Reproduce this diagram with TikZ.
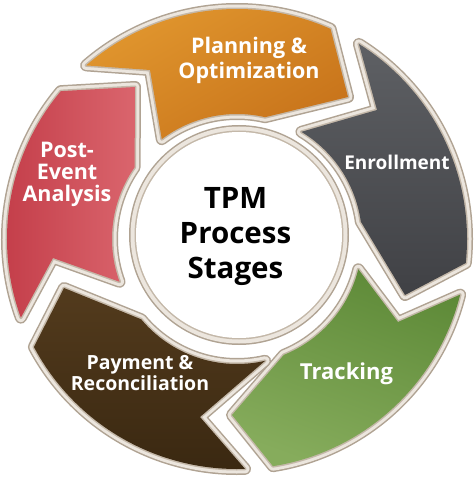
\documentclass[tikz,border=0pt]{standalone}
\usepackage{fontspec}
\setmainfont{Open Sans}
\definecolor{bdark}{HTML}{B0A393}
\definecolor{blight}{HTML}{ECE6DE}
\definecolor{bin}{HTML}{C4B8A9}
\definecolor{orA}{HTML}{E2982F}
\definecolor{orB}{HTML}{C8741B}
\definecolor{grA}{HTML}{5E6064}
\definecolor{grB}{HTML}{404145}
\definecolor{gnA}{HTML}{86AC5C}
\definecolor{gnB}{HTML}{5E8A38}
\definecolor{brA}{HTML}{533B1D}
\definecolor{brB}{HTML}{3A2811}
\definecolor{rdA}{HTML}{DA656D}
\definecolor{rdB}{HTML}{C23B47}
\newcommand\Ro{230}
\newcommand\Ri{125}
\newcommand\segpath[7]{\path[#1] (#2:\Ro) arc[start angle=#2,end angle=#3,radius=\Ro] -- (#4) -- (#5:\Ri) arc[start angle=#5,end angle=#6,radius=\Ri] -- (#7) -- cycle;}
\newcommand\segment[7]{%
 \segpath{draw=bdark,line width=12pt,line join=round}{#2}{#3}{#4}{#5}{#6}{#7}%
 \segpath{draw=blight,line width=9pt,line join=round}{#2}{#3}{#4}{#5}{#6}{#7}%
 \segpath{draw=bin,line width=3pt,line join=round}{#2}{#3}{#4}{#5}{#6}{#7}%
 \segpath{#1}{#2}{#3}{#4}{#5}{#6}{#7}}
\tikzset{
 lab/.style={text=white, align=center, inner sep=0pt, font=\bfseries\fontsize{21.5}{25}\selectfont},
 ctr/.style={text=black, align=center, inner sep=0pt, font=\bfseries\fontsize{29.5}{35}\selectfont}
}
\begin{document}
\begin{tikzpicture}[x=1pt,y=1pt]
\useasboundingbox (-237,-239) rectangle (237,239);
% segments
\segment{left color=orA,right color=orB,shading angle=30}{131}{66}{111,142}{77}{127}{-87,169}
\segment{top color=grA,bottom color=grB}{58}{-6}{168,-56}{8}{59}{140,129}
\segment{left color=gnB,right color=gnA,shading angle=-20}{-14}{-81}{-5,-176}{-68}{-14}{161,-83}
\segment{top color=brA,bottom color=brB}{-88}{-152}{-173,-49}{-140}{-77}{-37,-178}
\segment{left color=rdB,right color=rdA}{200}{140}{-102,152}{145}{200}{-184,-19}
% hub circle
\fill[bdark] (2,4) circle (110);
\fill[blight] (2,4) circle (108.5);
\fill[bin] (2,4) circle (104.5);
\fill[white] (2,4) circle (103);
% labels
\node[lab] (plan) at (12,179) {Planning \&\\Optimization};
\node[lab, font=\bfseries\fontsize{19}{22}\selectfont] (enr) at (160,77) {Enrollment};
\node[lab, font=\bfseries\fontsize{22}{24}\selectfont] (trk) at (109.5,-135) {Tracking};
\node[lab, font=\bfseries\fontsize{19.5}{20.5}\selectfont] (pay) at (-97,-134) {Payment \&\\Reconciliation};
\node[lab, font=\bfseries\fontsize{21.5}{22}\selectfont] (post) at (-170,65) {Post-\\Event\\Analysis};
\node[ctr] (hub) at (-1.5,2.5) {TPM\\Process\\Stages};
\end{tikzpicture}
\end{document}
